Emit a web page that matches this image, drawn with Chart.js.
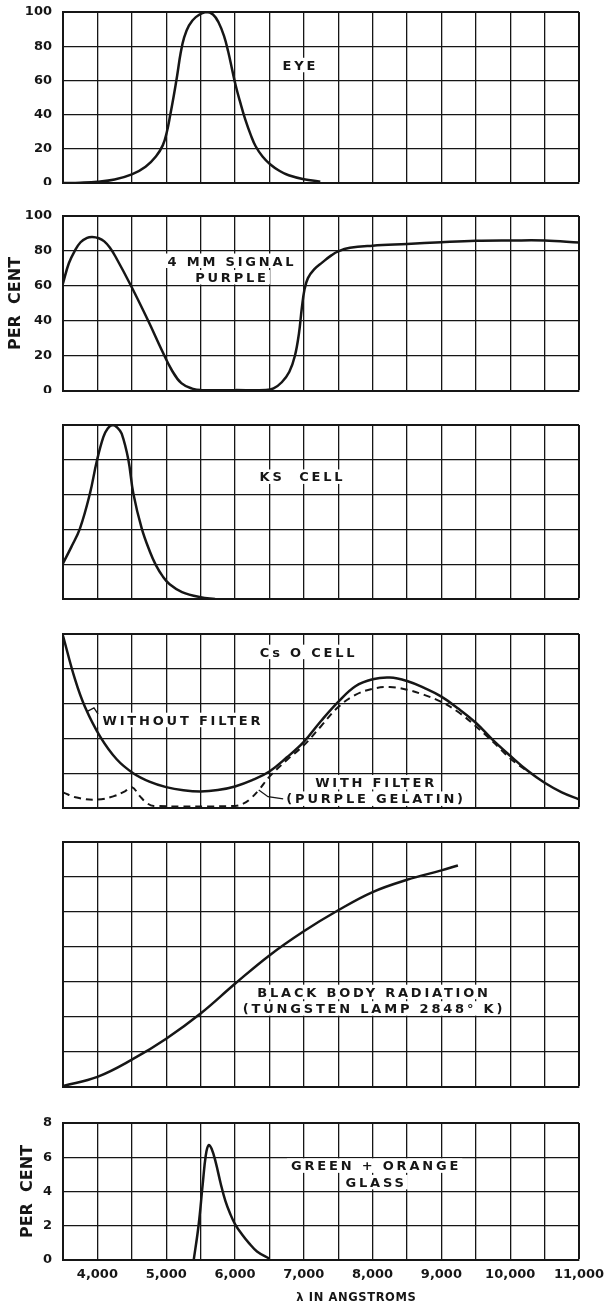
<!DOCTYPE html>
<html>
<head>
<meta charset="utf-8">
<title>Spectral sensitivity curves</title>
<script src="https://cdn.jsdelivr.net/npm/chart.js@4.4.1/dist/chart.umd.min.js"></script>
<style>
  html, body { margin: 0; padding: 0; background: #fff; }
  body { width: 604px; height: 1306px; position: relative; overflow: hidden; }
  .panel { position: absolute; left: 0; width: 604px; }
</style>
</head>
<body>
<div class="panel"><canvas id="eyeChart"></canvas></div>
<div class="panel"><canvas id="purpleChart"></canvas></div>
<div class="panel"><canvas id="ksChart"></canvas></div>
<div class="panel"><canvas id="csoChart"></canvas></div>
<div class="panel"><canvas id="bbChart"></canvas></div>
<div class="panel"><canvas id="glassChart"></canvas></div>
<script>
// ===== Data: wavelength in angstroms, response =====
const eyeWavelengths = [3500, 3750, 4000, 4250, 4500, 4700, 4850, 4950, 5010, 5060, 5110, 5160, 5210, 5260, 5330, 5430, 5585, 5680, 5760, 5840, 5900, 5960, 6010, 6070, 6150, 6230, 6300, 6400, 6510, 6650, 6780, 7000, 7240];
const eyeValues = [0, 0.2, 0.7, 2, 5, 9.5, 15.5, 22, 30, 40, 51, 63, 76, 85, 92, 97, 100, 98.5, 94, 86, 77, 66, 57, 48, 37, 28, 21.5, 15.5, 11, 7, 4.5, 2.2, 0.8];

const purpleWavelengths = [3500, 3585, 3670, 3755, 3850, 3925, 4020, 4100, 4180, 4260, 4490, 4740, 4940, 5080, 5220, 5390, 5510, 6000, 6450, 6560, 6680, 6790, 6870, 6930, 6970, 7010, 7060, 7150, 7270, 7400, 7500, 7670, 8000, 8500, 9000, 9500, 10000, 10500, 11000];
const purpleValues = [61.5, 73, 80, 85, 87.5, 88, 87.3, 85.5, 82, 77, 60, 40, 23, 12, 4.5, 1.2, 0.5, 0.5, 0.6, 1.5, 5, 11, 20, 33, 47, 58, 64.5, 69.5, 73.5, 77.5, 79.8, 81.8, 83, 84, 85, 85.8, 86, 86, 84.8];

const ksWavelengths = [3500, 3620, 3747, 3892, 3990, 4086, 4150, 4222, 4290, 4353, 4450, 4522, 4644, 4765, 4850, 4950, 5050, 5230, 5500, 5710];
const ksValues = [20.5, 29.8, 40.6, 60.7, 79, 93, 98, 100, 98.5, 95, 80, 60.7, 40.6, 27, 19.5, 13, 8.5, 4, 1, 0];

const csoWavelengths = [3500, 3674, 3820, 4040, 4280, 4520, 4765, 5000, 5250, 5500, 5750, 6000, 6250, 6500, 6750, 7000, 7250, 7500, 7750, 8000, 8250, 8500, 8750, 9000, 9250, 9500, 9750, 10000, 10250, 10500, 10750, 11000];
const csoValues = [99, 74, 58, 41, 28, 20, 15, 12, 10.2, 9.5, 10.3, 12.4, 16, 21, 29, 38, 50, 61, 70, 74, 75, 73, 69, 64, 57, 49, 39, 30, 21.5, 14.5, 9, 5];

const filterWavelengths = [3500, 3700, 3990, 4230, 4400, 4500, 4620, 4720, 4820, 6000, 6120, 6215, 6345, 6500, 6750, 7000, 7250, 7500, 7750, 8000, 8250, 8500, 8750, 9000, 9250, 9500, 9750, 10000, 10250];
const filterValues = [9, 6, 4.8, 6.7, 9.6, 12, 6.7, 2.8, 1.2, 1.2, 2.5, 5, 10.3, 18, 27.5, 36, 47, 58, 65, 68.5, 69.5, 68, 65, 61, 55, 47, 38, 28.5, 21];

const bbWavelengths = [3500, 4000, 4500, 5000, 5500, 6000, 6500, 7000, 7500, 8000, 8500, 9000, 9240];
const bbValues = [0.3, 2.9, 7.8, 13.8, 21, 29.5, 37.6, 44.5, 50.5, 55.7, 59.2, 61.9, 63.3];

const glassWavelengths = [5400, 5470, 5530, 5575, 5615, 5660, 5720, 5790, 5860, 5930, 6000, 6100, 6200, 6320, 6500];
const glassValues = [0, 2, 4.4, 6.1, 6.7, 6.5, 5.7, 4.5, 3.45, 2.7, 2.1, 1.5, 1.0, 0.5, 0.08];

// ===== Look =====
const INK = '#161616';
const FONT = '"DejaVu Sans", sans-serif';
const PLOT_LEFT = 63;
const PLOT_RIGHT = 579;
const PAD_TOP = 8;

const toPoints = (xs, ys) => xs.map((x, i) => ({ x, y: ys[i] }));

// captions (optionally on a white patch, with little leader hooks) placed in data units
const panelLabels = {
  id: 'panelLabels',
  beforeDatasetsDraw(chart, args, opts) {
    const { ctx, scales: { x, y } } = chart;
    (opts.items || []).forEach(item => {
      const size = item.size || 13;
      const spacing = item.spacing === undefined ? 2.8 : item.spacing;
      ctx.save();
      ctx.font = 'bold ' + size + 'px ' + FONT;
      ctx.letterSpacing = spacing + 'px';
      ctx.textAlign = 'left';
      ctx.textBaseline = 'alphabetic';
      const lh = 16.5, cap = size * 0.73;
      const px = x.getPixelForValue(item.x);
      const py = y.getPixelForValue(item.y);
      item.lines.forEach((t, i) => {
        const w = ctx.measureText(t).width - spacing;
        const cy = py - (item.lines.length - 1) * lh / 2 + i * lh;
        const tx = item.align === 'left' ? px : px - w / 2;
        if (item.box !== false) {
          ctx.fillStyle = '#fff';
          ctx.fillRect(tx - 4, cy - cap / 2 - 2.5, w + 8, cap + 5);
        }
        ctx.fillStyle = INK;
        ctx.fillText(t, tx, cy + cap / 2);
      });
      if (item.leader) {
        ctx.strokeStyle = INK;
        ctx.lineWidth = 1.3;
        ctx.beginPath();
        item.leader.forEach(([lx, ly], i) => {
          const a = x.getPixelForValue(lx), b = y.getPixelForValue(ly);
          i ? ctx.lineTo(a, b) : ctx.moveTo(a, b);
        });
        ctx.stroke();
      }
      ctx.restore();
    });
  }
};

const panels = [
  { id: 'eyeChart', top: 12, bottom: 183, yMax: 100, yStep: 20, yTicks: true,
    series: [{ data: toPoints(eyeWavelengths, eyeValues) }],
    labels: [{ x: 6930, y: 69, lines: ['EYE'] }] },
  { id: 'purpleChart', top: 216, bottom: 391, yMax: 100, yStep: 20, yTicks: true, yTitleGap: 6,
    series: [{ data: toPoints(purpleWavelengths, purpleValues) }],
    labels: [{ x: 5935, y: 69.7, lines: ['4 MM SIGNAL', 'PURPLE'] }] },
  { id: 'ksChart', top: 425, bottom: 599, yMax: 100, yStep: 20, yTicks: false,
    series: [{ data: toPoints(ksWavelengths, ksValues) }],
    labels: [{ x: 6960, y: 70.3, lines: ['KS  CELL'] }] },
  { id: 'csoChart', top: 634, bottom: 808, yMax: 100, yStep: 20, yTicks: false,
    series: [
      { data: toPoints(csoWavelengths, csoValues) },
      { data: toPoints(filterWavelengths, filterValues), borderDash: [7, 5], borderWidth: 2 }
    ],
    labels: [
      { x: 7050, y: 89.7, lines: ['Cs O CELL'] },
      { x: 4075, y: 50.6, align: 'left', lines: ['WITHOUT FILTER'],
        leader: [[3853, 55.5], [3950, 57.5], [4010, 54]] },
      { x: 8030, y: 10.1, lines: ['WITH FILTER', '(PURPLE GELATIN)'],
        leader: [[6345, 10.3], [6480, 6.5], [6700, 5.2]] }
    ] },
  { id: 'bbChart', top: 842, bottom: 1087, yMax: 70, yStep: 10, yTicks: false,
    series: [{ data: toPoints(bbWavelengths, bbValues) }],
    labels: [{ x: 8000, y: 24.8, lines: ['BLACK BODY RADIATION', '(TUNGSTEN LAMP 2848° K)'] }] },
  { id: 'glassChart', top: 1123, bottom: 1260, yMax: 8, yStep: 2, yTicks: true, yTitleGap: 18,
    bottomRoom: 46, xTicks: true,
    series: [{ data: toPoints(glassWavelengths, glassValues) }],
    labels: [
      { x: 8030, y: 5.03, lines: ['GREEN + ORANGE', 'GLASS'] },
      // axis caption sits right of centre on the plate
      { x: 7760, y: -2.12, lines: ['λ IN ANGSTROMS'], box: false, size: 11.5, spacing: 0.6 }
    ] }
];

panels.forEach(p => {
  const canvas = document.getElementById(p.id);
  const box = canvas.parentElement;
  const bottomRoom = p.bottomRoom || 2;
  box.style.top = (p.top - PAD_TOP) + 'px';
  box.style.height = (p.bottom - p.top + PAD_TOP + bottomRoom) + 'px';

  new Chart(canvas, {
    type: 'line',
    data: {
      datasets: p.series.map(s => Object.assign({
        borderColor: INK,
        borderWidth: 2.5,
        pointRadius: 0,
        fill: false,
        tension: 0.4
      }, s))
    },
    options: {
      responsive: true,
      maintainAspectRatio: false,
      animation: false,
      events: [],
      layout: { padding: { top: PAD_TOP, right: 604 - PLOT_RIGHT, left: 0, bottom: 0 } },
      plugins: {
        legend: { display: false },
        tooltip: { enabled: false },
        panelLabels: { items: p.labels }
      },
      scales: {
        x: {
          type: 'linear',
          min: 3500,
          max: 11000,
          border: { display: true, color: INK, width: 2 },
          grid: {
            color: INK,
            drawTicks: false,
            lineWidth: c => (c.tick && c.tick.value === 11000 ? 2 : 1.3)
          },
          ticks: {
            display: !!p.xTicks,
            stepSize: 500,
            autoSkip: false,
            maxRotation: 0,
            padding: 7,
            color: INK,
            font: { family: FONT, size: 13, weight: 'bold' },
            callback: v => (v % 1000 === 0 ? v.toLocaleString('en-US') : '')
          },
          afterFit: s => {
            s.height = bottomRoom;
            s.paddingLeft = 0;
            s.paddingRight = 0;
          }
        },
        y: {
          min: 0,
          max: p.yMax,
          border: { display: true, color: INK, width: 2 },
          grid: {
            color: INK,
            drawTicks: false,
            lineWidth: c => (c.tick && c.tick.value === p.yMax ? 2 : 1.3)
          },
          ticks: {
            display: p.yTicks,
            stepSize: p.yStep,
            padding: 11,
            color: INK,
            font: { family: FONT, size: 13, weight: 'bold' }
          },
          title: {
            display: p.yTitleGap !== undefined,
            text: 'PER  CENT',
            color: INK,
            font: { family: FONT, size: 16, weight: 'bold' },
            padding: { top: p.yTitleGap || 0, bottom: 0 }
          },
          afterFit: s => {
            s.width = PLOT_LEFT;
            s.paddingTop = 0;
            s.paddingBottom = 0;
          }
        }
      }
    },
    plugins: [panelLabels]
  });
});
</script>
</body>
</html>
